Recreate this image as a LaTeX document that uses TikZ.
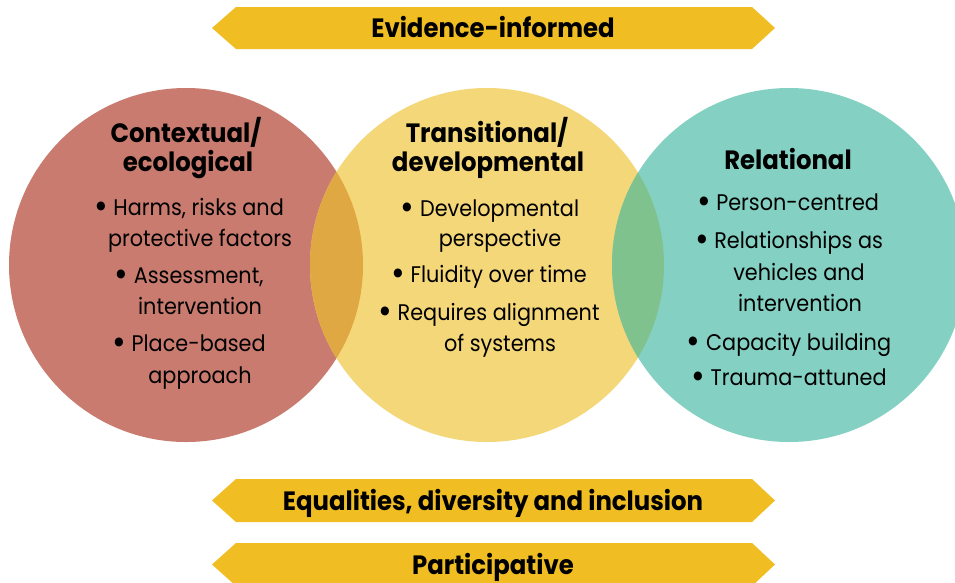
\documentclass[tikz,border=0pt]{standalone}
\usepackage{fontspec}
\usepackage{graphicx}
\setmainfont{Poppins}[FakeStretch=0.92]
\definecolor{ctxred}{HTML}{C97B6F}
\definecolor{trnyellow}{HTML}{F4D778}
\definecolor{reltealc}{HTML}{84D1C3}
\definecolor{mixorange}{HTML}{E0A842}
\definecolor{mixgreen}{HTML}{80C28E}
\definecolor{bannergold}{HTML}{F0BE23}
\tikzset{
  circtitle/.style={anchor=base, font=\fontsize{26.5}{26.5}\selectfont\bfseries, inner sep=0pt},
  item/.style={anchor=base, font=\fontsize{22.6}{22.6}\selectfont, inner sep=0pt},
  bannertext/.style={anchor=base, font=\fontsize{26.5}{26.5}\selectfont\bfseries, inner sep=0pt},
}
% a larger list bullet
\newcommand{\blt}{\raisebox{-0.16em}{\scalebox{1.6}{\textbullet}}\ }
% a double-pointed banner between a top and a bottom y
\newcommand{\bannerpath}[2]{%
  \fill[bannergold] (212,{(#1+#2)/2}) -- (236,#1) -- (752,#1) -- (775,{(#1+#2)/2})
    -- (752,#2) -- (236,#2) -- cycle;}
\begin{document}
\begin{tikzpicture}[x=1pt,y=-1pt]
\clip (0,0) rectangle (955,582);
\fill[white] (0,0) rectangle (955,582);

% the three circles
\fill[ctxred]    (186,265) circle (177);
\fill[trnyellow] (487,265) circle (177);
\fill[reltealc]  (789,265) circle (177);
% overlapping lenses
\begin{scope}
  \clip (186,265) circle (177);
  \fill[mixorange] (487,265) circle (177);
\end{scope}
\begin{scope}
  \clip (789,265) circle (177);
  \fill[mixgreen] (487,265) circle (177);
\end{scope}

% banners
\bannerpath{7}{49}
\node[bannertext] (ev) at (493,37) {Evidence-informed};
\bannerpath{479}{522}
\node[bannertext] (edi) at (493,510) {Equalities, diversity and inclusion};
\bannerpath{543}{586}
\node[bannertext] (part) at (493,574) {Participative};

% contextual / ecological
\node[circtitle] (c1) at (186,142) {Contextual/};
\node[circtitle] (c2) at (188,171) {ecological};
\node[item] (c3) at (189,215) {\blt Harms, risks and};
\node[item] (c4) at (200,246) {protective factors};
\node[item] (c5) at (189,283) {\blt Assessment,};
\node[item] (c6) at (200,314) {intervention};
\node[item] (c7) at (189,351) {\blt Place-based};
\node[item] (c8) at (200,383) {approach};

% transitional / developmental
\node[circtitle] (t1) at (487,142) {Transitional/};
\node[circtitle] (t2) at (488,171) {developmental};
\node[item] (t3) at (490,216) {\blt Developmental};
\node[item] (t4) at (500,246) {perspective};
\node[item] (t5) at (489,282) {\blt Fluidity over time};
\node[item] (t6) at (489,320) {\blt Requires alignment};
\node[item] (t7) at (500,351) {of systems};

% relational
\node[circtitle] (r1) at (788,169) {Relational};
\node[item] (r2) at (788,210) {\blt Person-centred};
\node[item] (r3) at (789,248) {\blt Relationships as};
\node[item] (r4) at (799,280) {vehicles and};
\node[item] (r5) at (800,311) {intervention};
\node[item] (r6) at (789,350) {\blt Capacity building};
\node[item] (r7) at (789,385) {\blt Trauma-attuned};
\end{tikzpicture}
\end{document}
